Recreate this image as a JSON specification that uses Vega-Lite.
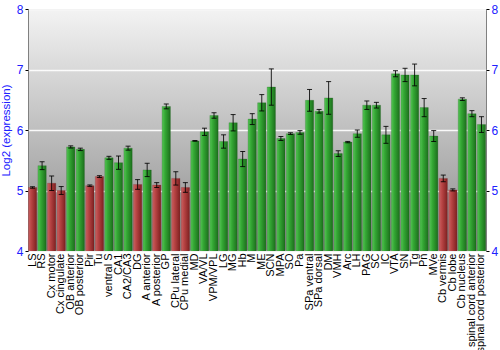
{
  "$schema": "https://vega.github.io/schema/vega-lite/v6.json",
  "autosize": "none",
  "padding": {"left": 28, "top": 9, "right": 14, "bottom": 99},
  "width": 458,
  "height": 242,
  "config": {
    "font": "Liberation Sans",
    "view": {
      "stroke": "#808080",
      "strokeWidth": 1,
      "fill": {"gradient": "linear", "x1": 0, "y1": 0, "x2": 0, "y2": 1,
        "stops": [{"offset": 0, "color": "#f3f3f3"}, {"offset": 1, "color": "#8a8a8a"}]}
    }
  },
  "data": {"values": [
    {"region": "LS", "value": 5.05, "err": 0.012, "detected": "no"},
    {"region": "RS", "value": 5.41, "err": 0.065, "detected": "yes"},
    {"region": "Cx motor", "value": 5.12, "err": 0.12, "detected": "no"},
    {"region": "Cx cingulate", "value": 5.0, "err": 0.065, "detected": "no"},
    {"region": "OB anterior", "value": 5.72, "err": 0.018, "detected": "yes"},
    {"region": "OB posterior", "value": 5.68, "err": 0.02, "detected": "yes"},
    {"region": "Pir", "value": 5.08, "err": 0.012, "detected": "no"},
    {"region": "Tu", "value": 5.23, "err": 0.015, "detected": "no"},
    {"region": "ventral S", "value": 5.54, "err": 0.025, "detected": "yes"},
    {"region": "CA1", "value": 5.46, "err": 0.11, "detected": "yes"},
    {"region": "CA2/CA3", "value": 5.70, "err": 0.033, "detected": "yes"},
    {"region": "DG", "value": 5.10, "err": 0.08, "detected": "no"},
    {"region": "A anterior", "value": 5.34, "err": 0.11, "detected": "yes"},
    {"region": "A posterior", "value": 5.09, "err": 0.04, "detected": "no"},
    {"region": "GP", "value": 6.39, "err": 0.04, "detected": "yes"},
    {"region": "CPu lateral", "value": 5.20, "err": 0.11, "detected": "no"},
    {"region": "CPu medial", "value": 5.05, "err": 0.08, "detected": "no"},
    {"region": "MD", "value": 5.82, "err": 0.006, "detected": "yes"},
    {"region": "VA/VL", "value": 5.97, "err": 0.06, "detected": "yes"},
    {"region": "VPM/VPL", "value": 6.24, "err": 0.045, "detected": "yes"},
    {"region": "LG", "value": 5.81, "err": 0.11, "detected": "yes"},
    {"region": "MG", "value": 6.12, "err": 0.135, "detected": "yes"},
    {"region": "Hb", "value": 5.52, "err": 0.125, "detected": "yes"},
    {"region": "M", "value": 6.18, "err": 0.09, "detected": "yes"},
    {"region": "ME", "value": 6.45, "err": 0.135, "detected": "yes"},
    {"region": "SCN", "value": 6.71, "err": 0.30, "detected": "yes"},
    {"region": "MPA", "value": 5.86, "err": 0.033, "detected": "yes"},
    {"region": "SO", "value": 5.94, "err": 0.014, "detected": "yes"},
    {"region": "Pa", "value": 5.96, "err": 0.03, "detected": "yes"},
    {"region": "SPa ventral", "value": 6.49, "err": 0.18, "detected": "yes"},
    {"region": "SPa dorsal", "value": 6.31, "err": 0.03, "detected": "yes"},
    {"region": "DM", "value": 6.53, "err": 0.27, "detected": "yes"},
    {"region": "VMH", "value": 5.61, "err": 0.047, "detected": "yes"},
    {"region": "Arc", "value": 5.80, "err": 0.011, "detected": "yes"},
    {"region": "LH", "value": 5.94, "err": 0.06, "detected": "yes"},
    {"region": "PAG", "value": 6.41, "err": 0.07, "detected": "yes"},
    {"region": "SC", "value": 6.41, "err": 0.047, "detected": "yes"},
    {"region": "IC", "value": 5.92, "err": 0.14, "detected": "yes"},
    {"region": "VTA", "value": 6.93, "err": 0.05, "detected": "yes"},
    {"region": "SN", "value": 6.91, "err": 0.11, "detected": "yes"},
    {"region": "Tg", "value": 6.91, "err": 0.18, "detected": "yes"},
    {"region": "Pn", "value": 6.37, "err": 0.15, "detected": "yes"},
    {"region": "MVe", "value": 5.90, "err": 0.09, "detected": "yes"},
    {"region": "Cb vermis", "value": 5.20, "err": 0.055, "detected": "no"},
    {"region": "Cb lobe", "value": 5.01, "err": 0.017, "detected": "no"},
    {"region": "Cb nucleus", "value": 6.51, "err": 0.022, "detected": "yes"},
    {"region": "spinal cord anterior", "value": 6.27, "err": 0.05, "detected": "yes"},
    {"region": "spinal cord posterior", "value": 6.09, "err": 0.13, "detected": "yes"}
  ]},
  "encoding": {
    "x": {
      "field": "region", "type": "nominal", "sort": null,
      "scale": {"paddingInner": 0.13, "paddingOuter": 0.04},
      "axis": {"title": null, "labelAngle": -90, "labelAlign": "right", "labelBaseline": "middle",
        "labelFontSize": 11, "labelColor": "#000000", "labelPadding": 2, "ticks": false, "domain": false,
        "labelOverlap": false, "labelLimit": 0}
    }
  },
  "layer": [
    {
      "mark": {"type": "bar", "clip": true, "strokeWidth": 0.4, "strokeOpacity": 0.6},
      "encoding": {
        "y": {"field": "value", "type": "quantitative",
          "scale": {"domain": [4, 8], "zero": false, "nice": false},
          "axis": {"orient": "left", "title": "Log2 (expression)", "titleColor": "#2020ff", "titleFontSize": 11.5,
            "titleFontWeight": "normal", "titlePadding": 5,
            "values": [4, 5, 6, 7, 8], "labelColor": "#2020ff", "labelFontSize": 12, "labelPadding": 2,
            "tickColor": "#000000", "tickSize": 3, "domain": false,
            "grid": true, "gridColor": "#ffffff", "gridWidth": 1.5, "gridOpacity": 0.9}},
        "color": {
          "condition": {"test": "datum.detected == 'no'",
            "value": {"gradient": "linear", "x1": 0, "y1": 0, "x2": 1, "y2": 0,
              "stops": [{"offset": 0, "color": "#c86262"}, {"offset": 0.35, "color": "#b84444"}, {"offset": 1, "color": "#7e2020"}]}},
          "value": {"gradient": "linear", "x1": 0, "y1": 0, "x2": 1, "y2": 0,
            "stops": [{"offset": 0, "color": "#56c456"}, {"offset": 0.35, "color": "#34a834"}, {"offset": 1, "color": "#1c6e1c"}]}
        },
        "stroke": {
          "condition": {"test": "datum.detected == 'no'", "value": "#6a2020"},
          "value": "#1a5a1a"
        }
      }
    },
    {
      "mark": {"type": "errorbar", "ticks": {"size": 5, "color": "#000000", "opacity": 0.85}, "rule": {"color": "#000000", "opacity": 0.85}},
      "encoding": {
        "y": {"field": "value", "type": "quantitative",
          "scale": {"domain": [4, 8], "zero": false, "nice": false},
          "axis": {"orient": "right", "title": null, "values": [4, 5, 6, 7, 8], "labelColor": "#2020ff",
            "labelFontSize": 12, "labelPadding": 2, "tickColor": "#000000", "tickSize": 3, "domain": false, "grid": false}},
        "yError": {"field": "err"}
      }
    }
  ],
  "resolve": {"axis": {"y": "independent"}}
}
